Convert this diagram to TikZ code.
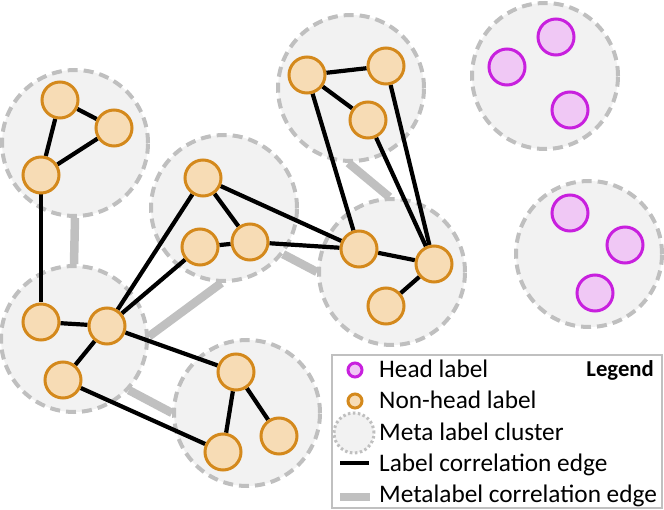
\documentclass[tikz,border=0pt]{standalone}
\usepackage{fontspec}
\setmainfont{Carlito}
\definecolor{clfill}{HTML}{F2F2F2}
\definecolor{clline}{HTML}{BFBFBF}
\definecolor{pfill}{HTML}{F7DCB5}
\definecolor{pline}{HTML}{D4891C}
\definecolor{hfill}{HTML}{F0C8F5}
\definecolor{hline}{HTML}{C820DE}
\definecolor{medge}{HTML}{C0C0C0}
\pgfdeclarelayer{grayl}
\pgfdeclarelayer{clusl}
\pgfdeclarelayer{edgel}
\pgfsetlayers{grayl,clusl,edgel,main}
\tikzset{
  cluster/.style={circle, minimum size=146pt, inner sep=0pt, fill=clfill, draw=clline, line width=4pt, dash pattern=on 10pt off 6pt},
  nonhead/.style={circle, minimum size=36pt, inner sep=0pt, fill=pfill, draw=pline, line width=3pt},
  headlab/.style={circle, minimum size=36pt, inner sep=0pt, fill=hfill, draw=hline, line width=3pt},
  ledge/.style={line width=4.2pt, black},
  mledge/.style={line width=8.5pt, medge},
  legtext/.style={anchor=base west, inner sep=0pt, font=\fontsize{25.3}{28}\selectfont},
}
\begin{document}
\begin{tikzpicture}[x=1pt,y=-1pt]
\useasboundingbox (0,0) rectangle (664,510);
\begin{pgfonlayer}{clusl}
\node[cluster] (A) at (75,143) {};
\node[cluster] (B) at (74,339) {};
\node[cluster] (C) at (224,208) {};
\node[cluster] (D) at (247,413) {};
\node[cluster] (E) at (351,88) {};
\node[cluster] (F) at (392,272) {};
\node[cluster] (G) at (545,76) {};
\node[cluster] (H) at (589,254) {};
\end{pgfonlayer}
\begin{pgfonlayer}{grayl}
\draw[mledge] (A.-90) -- (B.90);
\draw[mledge] (C.-92) -- (B.2);
\draw[mledge] (C.-38) -- (F.180);
\draw[mledge] (E.-92) -- (F.92);
\draw[mledge] (B.-43) -- (D.180);
\end{pgfonlayer}
% non-head labels
\node[nonhead] (a1) at (60,100) {};
\node[nonhead] (a2) at (114,128) {};
\node[nonhead] (a3) at (41,175) {};
\node[nonhead] (b1) at (41,322) {};
\node[nonhead] (b2) at (107,326) {};
\node[nonhead] (b3) at (63,380) {};
\node[nonhead] (c1) at (203,178) {};
\node[nonhead] (c2) at (200,247) {};
\node[nonhead] (c3) at (250,242) {};
\node[nonhead] (d1) at (236,372) {};
\node[nonhead] (d2) at (223,452) {};
\node[nonhead] (d3) at (279,436) {};
\node[nonhead] (e1) at (307,75) {};
\node[nonhead] (e2) at (386,66) {};
\node[nonhead] (e3) at (368,120) {};
\node[nonhead] (f1) at (359,249) {};
\node[nonhead] (f2) at (434,264) {};
\node[nonhead] (f3) at (386,306) {};
% head labels
\node[headlab] (g1) at (507,67) {};
\node[headlab] (g2) at (556,37) {};
\node[headlab] (g3) at (570,110) {};
\node[headlab] (h1) at (570,213) {};
\node[headlab] (h2) at (625,245) {};
\node[headlab] (h3) at (595,293) {};
\begin{pgfonlayer}{edgel}
\draw[ledge] (a1) -- (a2);
\draw[ledge] (a1) -- (a3);
\draw[ledge] (a2) -- (a3);
\draw[ledge] (a3) -- (b1);
\draw[ledge] (b1) -- (b2);
\draw[ledge] (b2) -- (b3);
\draw[ledge] (b2) -- (d1);
\draw[ledge] (b3) -- (d2);
\draw[ledge] (c1) -- (c3);
\draw[ledge] (c2) -- (c3);
\draw[ledge] (c1) -- (b2);
\draw[ledge] (c2) -- (b2);
\draw[ledge] (c1) -- (f1);
\draw[ledge] (c3) -- (f1);
\draw[ledge] (d1) -- (d2);
\draw[ledge] (d1) -- (d3);
\draw[ledge] (e1) -- (e2);
\draw[ledge] (e1) -- (e3);
\draw[ledge] (e1) -- (f1);
\draw[ledge] (e3) -- (f2);
\draw[ledge] (e2) -- (f2);
\draw[ledge] (f1) -- (f2);
\draw[ledge] (f2) -- (f3);
\end{pgfonlayer}
% legend
\node[draw=medge, line width=2pt, fill=white, minimum width=330pt, minimum height=153pt, inner sep=0pt, anchor=north west] (legend) at (331,354) {};
\node[anchor=base east, inner sep=0pt, font=\fontsize{22.7}{25}\selectfont\bfseries] (legtitle) at (654,377) {Legend};
\node[circle, minimum size=14pt, inner sep=0pt, fill=hfill, draw=hline, line width=3pt] (lh) at (355,370) {};
\node[circle, minimum size=14pt, inner sep=0pt, fill=pfill, draw=pline, line width=3pt] (ln) at (355,401) {};
\node[circle, minimum size=40pt, inner sep=0pt, fill=clfill, draw=clline, line width=3pt, dash pattern=on 2.5pt off 2.5pt] (lc) at (354,433) {};
\coordinate (le1) at (340,463);
\coordinate (le2) at (369,463);
\coordinate (lm1) at (340,497);
\coordinate (lm2) at (370,497);
\draw[ledge] (le1) -- (le2);
\draw[mledge] (lm1) -- (lm2);
\node[legtext] (t1) at (379,378) {Head label};
\node[legtext] (t2) at (379,409) {Non-head label};
\node[legtext] (t3) at (379,440) {Meta label cluster};
\node[legtext] (t4) at (379,471) {Label correlation edge};
\node[legtext] (t5) at (379,502) {Metalabel correlation edge};
\end{tikzpicture}
\end{document}
